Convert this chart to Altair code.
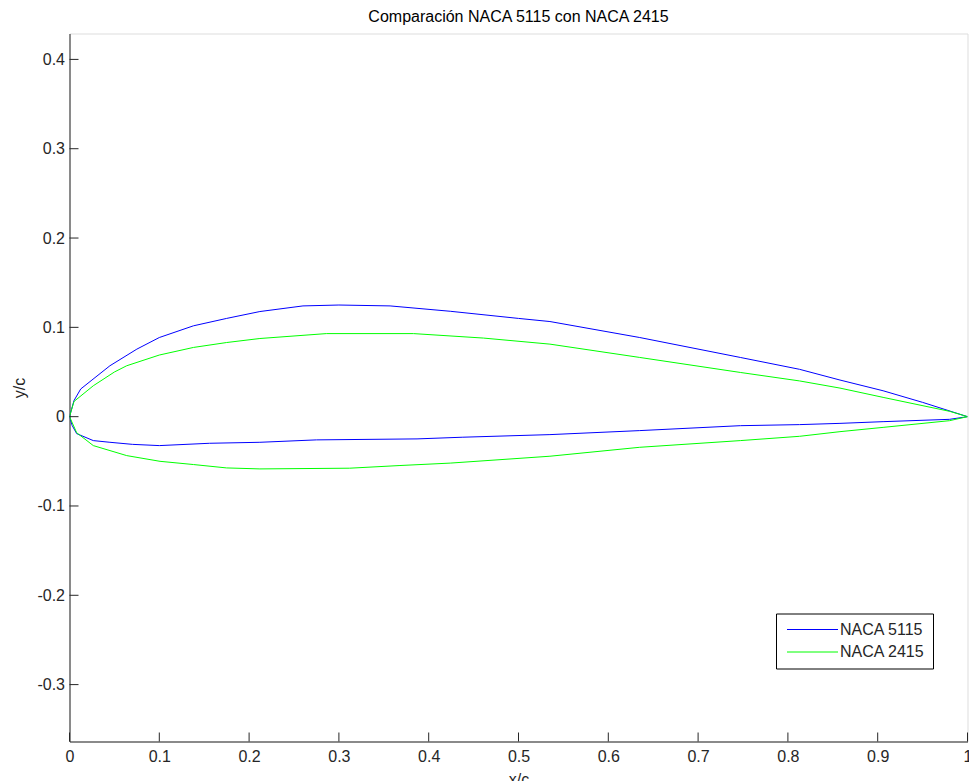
import altair as alt
import pandas as pd

# ---- data ----
x_5115_upper = [0.0, 0.005, 0.0125, 0.025, 0.045, 0.075, 0.1, 0.138, 0.175, 0.212, 0.26, 0.3, 0.357, 0.424, 0.5, 0.535, 0.635, 0.747, 0.813, 0.858, 0.906, 0.95, 1.0]
y_5115_upper = [0.0, 0.018, 0.031, 0.041, 0.057, 0.0756, 0.0886, 0.1017, 0.110, 0.1177, 0.124, 0.125, 0.124, 0.118, 0.110, 0.1065, 0.0886, 0.0663, 0.053, 0.041, 0.029, 0.016, 0.0]

x_5115_lower = [0.0, 0.003, 0.008, 0.0265, 0.045, 0.07, 0.1, 0.156, 0.212, 0.275, 0.387, 0.438, 0.535, 0.635, 0.747, 0.813, 0.858, 0.906, 0.98, 1.0]
y_5115_lower = [0.0, -0.010, -0.019, -0.0268, -0.0287, -0.031, -0.0324, -0.0298, -0.0287, -0.026, -0.0249, -0.023, -0.0201, -0.0156, -0.0101, -0.0089, -0.0075, -0.0056, -0.003, 0.0]

x_2415_upper = [0.0, 0.005, 0.0265, 0.05, 0.0637, 0.1, 0.138, 0.175, 0.212, 0.286, 0.383, 0.461, 0.535, 0.635, 0.747, 0.813, 0.858, 0.906, 0.98, 1.0]
y_2415_upper = [0.0, 0.017, 0.0346, 0.050, 0.057, 0.069, 0.0775, 0.083, 0.0875, 0.093, 0.093, 0.088, 0.0812, 0.0663, 0.0495, 0.040, 0.032, 0.0216, 0.006, 0.0]

x_2415_lower = [0.0, 0.008, 0.0265, 0.0637, 0.1008, 0.138, 0.175, 0.212, 0.312, 0.368, 0.424, 0.535, 0.635, 0.747, 0.813, 0.858, 0.906, 0.98, 1.0]
y_2415_lower = [0.0, -0.018, -0.0324, -0.0436, -0.050, -0.0536, -0.0574, -0.0585, -0.0577, -0.0547, -0.052, -0.0443, -0.0343, -0.0268, -0.022, -0.0168, -0.012, -0.0045, 0.0]

series_names = ["NACA 5115", "NACA 2415"]
series_colors = ["#0000ff", "#00ff00"]

x_ticks = [0.0, 0.1, 0.2, 0.3, 0.4, 0.5, 0.6, 0.7, 0.8, 0.9, 1.0]
y_ticks = [-0.3, -0.2, -0.1, 0.0, 0.1, 0.2, 0.3, 0.4]

title_text = "Comparación NACA 5115 con NACA 2415"

# ---- build table ----
rows = []
profiles = [
    (series_names[0], x_5115_upper, y_5115_upper, x_5115_lower, y_5115_lower),
    (series_names[1], x_2415_upper, y_2415_upper, x_2415_lower, y_2415_lower),
]
for name, xu, yu, xl, yl in profiles:
    k = 0
    for xv, yv in zip(reversed(xu), reversed(yu)):
        rows.append({"serie": name, "x": xv, "y": yv, "ord": k})
        k += 1
    for xv, yv in zip(xl[1:], yl[1:]):
        rows.append({"serie": name, "x": xv, "y": yv, "ord": k})
        k += 1
df = pd.DataFrame(rows)

W, H = 898, 708
FONT = "Liberation Sans, Arial, Helvetica, sans-serif"
AXC = "#262626"

x_scale = alt.Scale(domain=[0, 1], nice=False, zero=False)
y_scale = alt.Scale(domain=[-0.3637, 0.429], nice=False, zero=False)

lbl = "datum.value == 0 ? '0' : toString(round(datum.value*10)/10)"

lines = alt.Chart(df).mark_line(strokeWidth=1, clip=True).encode(
    x=alt.X("x:Q", scale=x_scale,
            axis=alt.Axis(values=x_ticks, title="x/c", labelExpr=lbl, ticks=False, tickSize=0,
                          labelPadding=7, titlePadding=7, grid=False, domainColor=AXC,
                          labelColor=AXC, titleColor=AXC, labelFontSize=16, titleFontSize=16,
                          labelFont=FONT, titleFont=FONT, titleFontWeight="normal",
                          labelFlush=False, labelOverlap=False)),
    y=alt.Y("y:Q", scale=y_scale,
            axis=alt.Axis(values=y_ticks, title="y/c", labelExpr=lbl, ticks=False, tickSize=0,
                          labelPadding=5, titlePadding=9, grid=False, domainColor=AXC,
                          labelColor=AXC, titleColor=AXC, labelFontSize=16, titleFontSize=16,
                          labelFont=FONT, titleFont=FONT, titleFontWeight="normal",
                          labelFlush=False, labelOverlap=False)),
    stroke=alt.Stroke("serie:N", scale=alt.Scale(domain=series_names, range=series_colors),
                      title=None,
                      legend=alt.Legend(orient="none", legendX=706.5, legendY=580,
                                        strokeColor="black", fillColor="white", padding=8,
                                        symbolType="M-1,0H9.2", symbolSize=100,
                                        symbolStrokeWidth=1, labelOffset=40,
                                        labelFontSize=16, labelFont=FONT, labelColor=AXC,
                                        rowPadding=6.5, labelLimit=300)),
    order="ord:Q",
    detail="serie:N",
)

xt = pd.DataFrame({"v": x_ticks})
yt = pd.DataFrame({"v": y_ticks})

x_tick_marks = alt.Chart(xt).mark_rule(color=AXC, strokeWidth=1).encode(
    x=alt.X("v:Q", scale=x_scale),
    y=alt.value(H), y2=alt.value(H - 9),
)
y_tick_marks = alt.Chart(yt).mark_rule(color=AXC, strokeWidth=1).encode(
    y=alt.Y("v:Q", scale=y_scale),
    x=alt.value(0), x2=alt.value(9),
)

chart = alt.layer(lines, x_tick_marks, y_tick_marks).properties(
    width=W, height=H,
    title=alt.TitleParams(title_text, fontSize=16, font=FONT, fontWeight="normal",
                          color="black", anchor="middle", baseline="alphabetic",
                          frame="group", offset=12, dy=16.5),
    autosize=alt.AutoSizeParams(type="none"),
    padding={"left": 69.5, "top": 33.5, "right": 1.5, "bottom": 39.5},
).configure_view(strokeWidth=0).configure(background="white")

chart.save("out.html", embed_options={"renderer": "svg", "actions": False})
